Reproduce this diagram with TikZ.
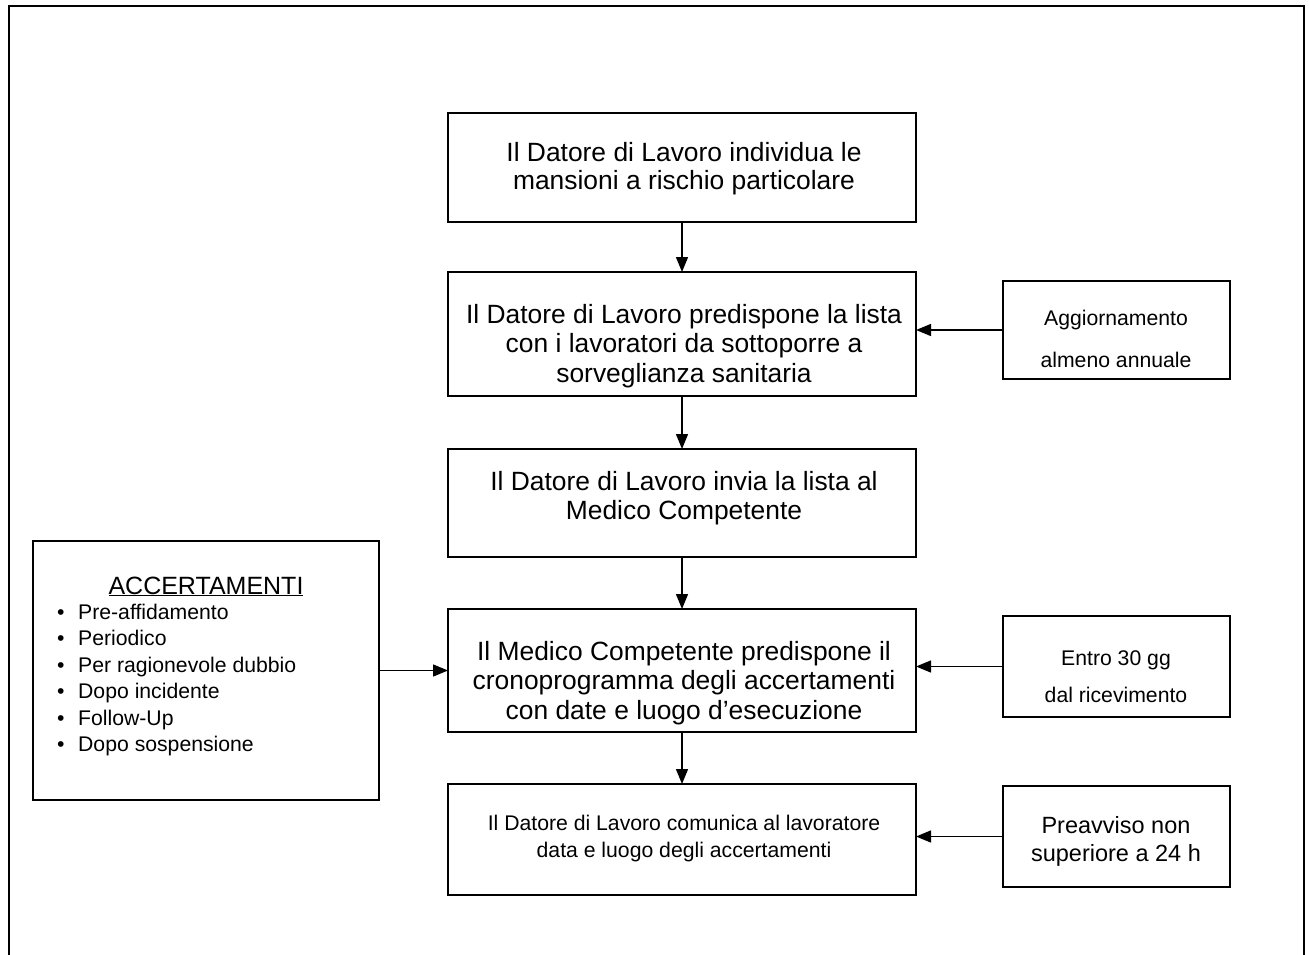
\documentclass[tikz,border=0pt]{standalone}
\usepackage{fontspec}
\setmainfont{Liberation Sans}
\usetikzlibrary{arrows.meta}
\begin{document}
\begin{tikzpicture}[x=1pt,y=-1pt,
  box/.style={draw, line width=1.7pt, inner sep=0pt, outer sep=0pt, anchor=north west},
  mainbox/.style={box, minimum width=468pt},
  sidebox/.style={box, minimum width=227pt},
  lbl/.style={align=center, inner sep=0pt},
  bigtext/.style={lbl, font=\fontsize{26.4}{29.5}\selectfont},
  arr/.style={line width=1.4pt, -{Triangle[width=12pt,length=15pt]}},
]
\useasboundingbox (0,0) rectangle (1309,955);
% outer frame (open at the bottom)
\draw[line width=2.4pt] (9,965) -- (9,6) -- (1304,6) -- (1304,965);

% main column
\node[mainbox, minimum height=109pt] (b1) at (448,113) {};
\node[mainbox, minimum height=124pt] (b2) at (448,272) {};
\node[mainbox, minimum height=108pt] (b3) at (448,449) {};
\node[mainbox, minimum height=123pt] (b4) at (448,609) {};
\node[mainbox, minimum height=111pt] (b5) at (448,784) {};

\node[bigtext, font=\fontsize{26.4}{28}\selectfont] (t1) at (684,169) {Il Datore di Lavoro individua le\\mansioni a rischio particolare};
\node[bigtext] (t2) at (684,346) {Il Datore di Lavoro predispone la lista\\con i lavoratori da sottoporre a\\sorveglianza sanitaria};
\node[bigtext] (t3) at (684,498) {Il Datore di Lavoro invia la lista al\\Medico Competente};
\node[bigtext] (t4) at (684,683) {Il Medico Competente predispone il\\cronoprogramma degli accertamenti\\con date e luogo d’esecuzione};
\node[lbl, font=\fontsize{21.2}{27}\selectfont] (t5) at (684,838.5) {Il Datore di Lavoro comunica al lavoratore\\data e luogo degli accertamenti};

% side boxes
\node[sidebox, minimum height=98pt] (bA) at (1003,281) {};
\node[sidebox, minimum height=101pt] (bB) at (1003,616) {};
\node[sidebox, minimum height=101pt] (bC) at (1003,786) {};
\node[lbl, font=\fontsize{21.2}{42}\selectfont] (tA) at (1116,339) {Aggiornamento\\almeno annuale};
\node[lbl, font=\fontsize{21.2}{37}\selectfont] (tB) at (1116,676.5) {Entro 30 gg\\dal ricevimento};
\node[lbl, font=\fontsize{23.5}{28}\selectfont] (tC) at (1116,841) {Preavviso non\\superiore a 24 h};

% accertamenti box
\node[box, minimum width=346pt, minimum height=259pt] (acc) at (33,541) {};
\node[anchor=base, inner sep=0pt, font=\fontsize{25}{30}\selectfont] (acctitle) at (206,594) {\underline{ACCERTAMENTI}};
\node[anchor=north west, align=left, inner sep=0pt, font=\fontsize{21.2}{26.5}\selectfont] (acclist) at (57,603.5)
  {\makebox[21pt][l]{\textbullet}Pre-affidamento\\
   \makebox[21pt][l]{\textbullet}Periodico\\
   \makebox[21pt][l]{\textbullet}Per ragionevole dubbio\\
   \makebox[21pt][l]{\textbullet}Dopo incidente\\
   \makebox[21pt][l]{\textbullet}Follow-Up\\
   \makebox[21pt][l]{\textbullet}Dopo sospensione};

% connectors
\draw[arr] (b1.south) -- (b2.north);
\draw[arr] (b2.south) -- (b3.north);
\draw[arr] (b3.south) -- (b4.north);
\draw[arr] (b4.south) -- (b5.north);
\draw[arr] (bA.west) -- (bA.west -| b2.east);
\draw[arr] (bB.west) -- (bB.west -| b4.east);
\draw[arr] (bC.west) -- (bC.west -| b5.east);
\draw[arr] (acc.east) -- (acc.east -| b4.west);
\end{tikzpicture}
\end{document}
